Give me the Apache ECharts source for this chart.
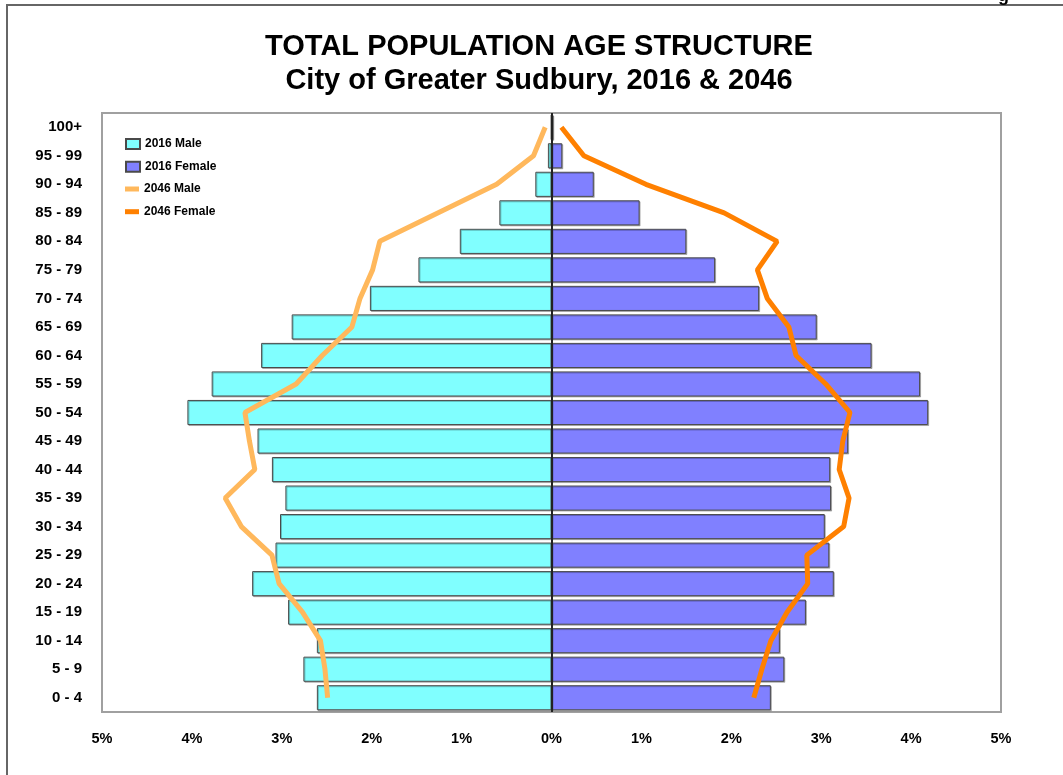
<!DOCTYPE html>
<html>
<head>
<meta charset="utf-8">
<script src="https://cdn.jsdelivr.net/npm/echarts@6/dist/echarts.min.js"></script>
<style>
html,body{margin:0;padding:0;background:#fff;}
#chart{width:1063px;height:775px;}
</style>
</head>
<body>
<div id="chart"></div>
<script>
// Categories bottom -> top
const ageGroups = ['0 - 4','5 - 9','10 - 14','15 - 19','20 - 24','25 - 29','30 - 34','35 - 39','40 - 44','45 - 49','50 - 54','55 - 59','60 - 64','65 - 69','70 - 74','75 - 79','80 - 84','85 - 89','90 - 94','95 - 99','100+'];
// Percent of total population
const male2016   = [2.61,2.76,2.61,2.93,3.33,3.07,3.02,2.96,3.11,3.27,4.05,3.78,3.23,2.89,2.02,1.48,1.02,0.58,0.18,0.04,0.005];
const female2016 = [2.44,2.59,2.54,2.83,3.14,3.09,3.04,3.11,3.10,3.30,4.19,4.10,3.56,2.95,2.31,1.82,1.50,0.98,0.47,0.12,0.02];
const male2046   = [2.49,2.52,2.57,2.77,3.03,3.11,3.45,3.63,3.30,3.36,3.41,2.84,2.55,2.22,2.13,1.99,1.91,1.26,0.61,0.20,0.07];
const female2046 = [2.25,2.34,2.44,2.62,2.85,2.84,3.25,3.31,3.20,3.24,3.32,3.05,2.72,2.64,2.40,2.29,2.51,1.92,1.05,0.36,0.11];
const xTickValues = [-5,-4,-3,-2,-1,0,1,2,3,4,5];
const xTickLabels = ['5%','4%','3%','2%','1%','0%','1%','2%','3%','4%','5%'];

const FONT = '"Liberation Sans", Arial, sans-serif';
const chart = echarts.init(document.getElementById('chart'), null, {renderer:'canvas'});

const barBorder = {borderColor:'#4a4a4a', borderWidth:1, shadowColor:'rgba(0,0,0,0.25)', shadowOffsetX:1, shadowOffsetY:1};

chart.setOption({
  animation:false,
  backgroundColor:'#fff',
  title:{
    text:'TOTAL POPULATION AGE STRUCTURE\nCity of Greater Sudbury, 2016 & 2046',
    left:539, top:30, textAlign:'center', padding:0,
    textStyle:{fontFamily:FONT, fontWeight:'bold', fontSize:29, lineHeight:34, color:'#000'}
  },
  graphic:[
    {type:'rect', shape:{x:7, y:5, width:1100, height:800}, style:{fill:'none', stroke:'#666', lineWidth:2}, silent:true, z:-1},
    {type:'text', x:998, y:-13, style:{text:'g', font:'bold 18px "Liberation Sans", Arial', fill:'#000'}, silent:true}
  ],
  legend:[
    {
      data:['2016 Male','2016 Female'],
      orient:'vertical', left:125, top:137, itemGap:8.7, padding:0,
      itemWidth:14, itemHeight:10, itemTextGap:1, icon:'rect',
      textStyle:{fontFamily:FONT, fontWeight:'bold', fontSize:12, lineHeight:14, color:'#000'}
    },
    {
      data:['2046 Male','2046 Female'],
      orient:'vertical', left:125, top:182, itemGap:8.7, padding:0,
      itemWidth:14, itemHeight:5, itemTextGap:1, icon:'rect',
      textStyle:{fontFamily:FONT, fontWeight:'bold', fontSize:12, lineHeight:14, color:'#000'}
    }
  ],
  grid:{left:102, right:62, top:113, bottom:63, show:true, borderColor:'#a0a0a0', borderWidth:2, backgroundColor:'transparent'},
  xAxis:{
    type:'value', min:-5, max:5, interval:1,
    axisLine:{show:false}, axisTick:{show:false}, splitLine:{show:false},
    axisLabel:{
      margin:19, fontFamily:FONT, fontWeight:'bold', fontSize:14.5, color:'#000',
      formatter:function(v){ const i = xTickValues.indexOf(Math.round(v)); return i>=0 ? xTickLabels[i] : ''; }
    }
  },
  yAxis:{
    type:'category', data:ageGroups,
    axisLine:{show:false}, axisTick:{show:false}, splitLine:{show:false},
    axisLabel:{margin:20, fontFamily:FONT, fontWeight:'bold', fontSize:15, color:'#000'}
  },
  series:[
    {
      name:'2016 Male', type:'bar', stack:'pop', barCategoryGap:'12%',
      data:male2016.map(v=>-v),
      itemStyle:Object.assign({color:'#80ffff'}, barBorder),
      z:2
    },
    {
      name:'2016 Female', type:'bar', stack:'pop', barCategoryGap:'12%',
      data:female2016,
      itemStyle:Object.assign({color:'#8080ff'}, barBorder),
      z:2,
      markLine:{
        silent:true, symbol:['none','none'], label:{show:false},
        lineStyle:{color:'#222', width:2, type:'solid'},
        data:[{xAxis:0}]
      }
    },
    {
      name:'2046 Male', type:'line', data:male2046.map(v=>-v),
      symbol:'none', lineStyle:{color:'#ffb85c', width:5}, itemStyle:{color:'#ffb85c'}, z:4
    },
    {
      name:'2046 Female', type:'line', data:female2046,
      symbol:'none', lineStyle:{color:'#ff8000', width:5}, itemStyle:{color:'#ff8000'}, z:4
    }
  ]
});
</script>
</body>
</html>
